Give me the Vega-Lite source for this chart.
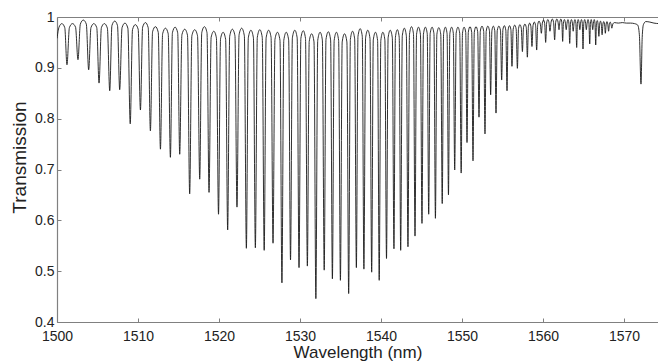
{
"$schema":"https://vega.github.io/schema/vega-lite/v6.json",
"width":601,"height":305,
"autosize":{"type":"none"},
"padding":{"left":57,"top":17,"right":0,"bottom":39},
"background":"white",
"data":{"values":[
{"w":1500.00,"t":0.958},{"w":1500.25,"t":0.980},{"w":1500.60,"t":0.987},{"w":1500.96,"t":0.979},
{"w":1501.23,"t":0.906},{"w":1501.53,"t":0.979},{"w":1501.91,"t":0.987},{"w":1502.29,"t":0.980},
{"w":1502.59,"t":0.916},{"w":1502.88,"t":0.986},{"w":1503.25,"t":0.994},{"w":1503.62,"t":0.986},
{"w":1503.91,"t":0.896},{"w":1504.19,"t":0.979},{"w":1504.55,"t":0.987},{"w":1504.91,"t":0.979},
{"w":1505.19,"t":0.870},{"w":1505.48,"t":0.979},{"w":1505.85,"t":0.987},{"w":1506.22,"t":0.978},
{"w":1506.51,"t":0.855},{"w":1506.78,"t":0.983},{"w":1507.13,"t":0.992},{"w":1507.47,"t":0.983},
{"w":1507.74,"t":0.857},{"w":1508.03,"t":0.979},{"w":1508.39,"t":0.988},{"w":1508.75,"t":0.978},
{"w":1509.04,"t":0.790},{"w":1509.32,"t":0.975},{"w":1509.67,"t":0.985},{"w":1510.02,"t":0.976},
{"w":1510.30,"t":0.817},{"w":1510.57,"t":0.980},{"w":1510.92,"t":0.989},{"w":1511.26,"t":0.979},
{"w":1511.53,"t":0.776},{"w":1511.80,"t":0.971},{"w":1512.15,"t":0.981},{"w":1512.50,"t":0.970},
{"w":1512.77,"t":0.740},{"w":1513.04,"t":0.967},{"w":1513.39,"t":0.978},{"w":1513.73,"t":0.967},
{"w":1514.00,"t":0.724},{"w":1514.25,"t":0.969},{"w":1514.58,"t":0.980},{"w":1514.90,"t":0.969},
{"w":1515.15,"t":0.730},{"w":1515.42,"t":0.965},{"w":1515.77,"t":0.976},{"w":1516.11,"t":0.964},
{"w":1516.38,"t":0.652},{"w":1516.65,"t":0.963},{"w":1517.00,"t":0.975},{"w":1517.35,"t":0.963},
{"w":1517.62,"t":0.681},{"w":1517.87,"t":0.969},{"w":1518.20,"t":0.981},{"w":1518.52,"t":0.969},
{"w":1518.77,"t":0.655},{"w":1519.03,"t":0.960},{"w":1519.36,"t":0.972},{"w":1519.68,"t":0.959},
{"w":1519.94,"t":0.612},{"w":1520.19,"t":0.957},{"w":1520.51,"t":0.970},{"w":1520.82,"t":0.956},
{"w":1521.07,"t":0.581},{"w":1521.32,"t":0.962},{"w":1521.65,"t":0.976},{"w":1521.97,"t":0.963},
{"w":1522.22,"t":0.626},{"w":1522.48,"t":0.965},{"w":1522.80,"t":0.978},{"w":1523.13,"t":0.963},
{"w":1523.38,"t":0.545},{"w":1523.62,"t":0.959},{"w":1523.94,"t":0.974},{"w":1524.25,"t":0.959},
{"w":1524.49,"t":0.546},{"w":1524.73,"t":0.960},{"w":1525.04,"t":0.975},{"w":1525.34,"t":0.960},
{"w":1525.58,"t":0.541},{"w":1525.82,"t":0.959},{"w":1526.13,"t":0.974},{"w":1526.43,"t":0.960},
{"w":1526.67,"t":0.555},{"w":1526.91,"t":0.956},{"w":1527.22,"t":0.970},{"w":1527.53,"t":0.954},
{"w":1527.77,"t":0.477},{"w":1528.00,"t":0.954},{"w":1528.30,"t":0.970},{"w":1528.60,"t":0.955},
{"w":1528.83,"t":0.522},{"w":1529.06,"t":0.959},{"w":1529.36,"t":0.974},{"w":1529.65,"t":0.959},
{"w":1529.88,"t":0.507},{"w":1530.11,"t":0.958},{"w":1530.40,"t":0.973},{"w":1530.68,"t":0.958},
{"w":1530.91,"t":0.510},{"w":1531.14,"t":0.952},{"w":1531.44,"t":0.967},{"w":1531.73,"t":0.951},
{"w":1531.96,"t":0.446},{"w":1532.19,"t":0.954},{"w":1532.48,"t":0.970},{"w":1532.76,"t":0.955},
{"w":1532.99,"t":0.502},{"w":1533.21,"t":0.956},{"w":1533.50,"t":0.971},{"w":1533.78,"t":0.955},
{"w":1534.00,"t":0.485},{"w":1534.22,"t":0.954},{"w":1534.50,"t":0.970},{"w":1534.77,"t":0.954},
{"w":1534.99,"t":0.482},{"w":1535.21,"t":0.951},{"w":1535.50,"t":0.967},{"w":1535.79,"t":0.951},
{"w":1536.01,"t":0.456},{"w":1536.22,"t":0.956},{"w":1536.49,"t":0.972},{"w":1536.75,"t":0.957},
{"w":1536.96,"t":0.507},{"w":1537.16,"t":0.962},{"w":1537.43,"t":0.977},{"w":1537.69,"t":0.962},
{"w":1537.89,"t":0.504},{"w":1538.10,"t":0.959},{"w":1538.37,"t":0.974},{"w":1538.64,"t":0.958},
{"w":1538.85,"t":0.498},{"w":1539.05,"t":0.955},{"w":1539.32,"t":0.970},{"w":1539.58,"t":0.954},
{"w":1539.78,"t":0.482},{"w":1539.98,"t":0.954},{"w":1540.23,"t":0.970},{"w":1540.48,"t":0.955},
{"w":1540.68,"t":0.525},{"w":1540.88,"t":0.959},{"w":1541.14,"t":0.974},{"w":1541.40,"t":0.959},
{"w":1541.60,"t":0.544},{"w":1541.78,"t":0.960},{"w":1542.02,"t":0.975},{"w":1542.25,"t":0.960},
{"w":1542.43,"t":0.541},{"w":1542.63,"t":0.963},{"w":1542.88,"t":0.978},{"w":1543.13,"t":0.963},
{"w":1543.33,"t":0.548},{"w":1543.52,"t":0.966},{"w":1543.77,"t":0.981},{"w":1544.01,"t":0.967},
{"w":1544.20,"t":0.569},{"w":1544.39,"t":0.966},{"w":1544.63,"t":0.980},{"w":1544.87,"t":0.966},
{"w":1545.06,"t":0.594},{"w":1545.24,"t":0.966},{"w":1545.48,"t":0.980},{"w":1545.71,"t":0.967},
{"w":1545.89,"t":0.612},{"w":1546.07,"t":0.967},{"w":1546.31,"t":0.980},{"w":1546.54,"t":0.967},
{"w":1546.72,"t":0.604},{"w":1546.90,"t":0.966},{"w":1547.14,"t":0.979},{"w":1547.38,"t":0.966},
{"w":1547.56,"t":0.633},{"w":1547.73,"t":0.967},{"w":1547.95,"t":0.980},{"w":1548.16,"t":0.967},
{"w":1548.33,"t":0.650},{"w":1548.50,"t":0.967},{"w":1548.72,"t":0.980},{"w":1548.93,"t":0.968},
{"w":1549.10,"t":0.699},{"w":1549.28,"t":0.968},{"w":1549.50,"t":0.980},{"w":1549.72,"t":0.968},
{"w":1549.90,"t":0.693},{"w":1550.06,"t":0.968},{"w":1550.26,"t":0.980},{"w":1550.46,"t":0.970},
{"w":1550.62,"t":0.753},{"w":1550.78,"t":0.970},{"w":1550.99,"t":0.981},{"w":1551.20,"t":0.970},
{"w":1551.36,"t":0.717},{"w":1551.52,"t":0.970},{"w":1551.73,"t":0.981},{"w":1551.94,"t":0.971},
{"w":1552.10,"t":0.803},{"w":1552.26,"t":0.972},{"w":1552.47,"t":0.982},{"w":1552.68,"t":0.972},
{"w":1552.84,"t":0.770},{"w":1552.99,"t":0.972},{"w":1553.19,"t":0.982},{"w":1553.39,"t":0.973},
{"w":1553.54,"t":0.847},{"w":1553.69,"t":0.973},{"w":1553.87,"t":0.982},{"w":1554.05,"t":0.973},
{"w":1554.20,"t":0.811},{"w":1554.35,"t":0.973},{"w":1554.55,"t":0.982},{"w":1554.75,"t":0.974},
{"w":1554.90,"t":0.876},{"w":1555.05,"t":0.975},{"w":1555.23,"t":0.983},{"w":1555.41,"t":0.974},
{"w":1555.56,"t":0.855},{"w":1555.69,"t":0.974},{"w":1555.87,"t":0.983},{"w":1556.04,"t":0.975},
{"w":1556.17,"t":0.903},{"w":1556.32,"t":0.976},{"w":1556.51,"t":0.984},{"w":1556.69,"t":0.976},
{"w":1556.84,"t":0.899},{"w":1556.98,"t":0.977},{"w":1557.15,"t":0.985},{"w":1557.32,"t":0.978},
{"w":1557.46,"t":0.932},{"w":1557.59,"t":0.979},{"w":1557.77,"t":0.986},{"w":1557.94,"t":0.979},
{"w":1558.07,"t":0.921},{"w":1558.20,"t":0.981},{"w":1558.36,"t":0.988},{"w":1558.51,"t":0.981},
{"w":1558.64,"t":0.942},{"w":1558.77,"t":0.983},{"w":1558.93,"t":0.990},{"w":1559.09,"t":0.983},
{"w":1559.22,"t":0.935},{"w":1559.35,"t":0.985},{"w":1559.51,"t":0.992},{"w":1559.67,"t":0.986},
{"w":1559.80,"t":0.968},{"w":1559.92,"t":0.988},{"w":1560.07,"t":0.994},{"w":1560.21,"t":0.987},
{"w":1560.33,"t":0.950},{"w":1560.45,"t":0.988},{"w":1560.60,"t":0.995},{"w":1560.74,"t":0.989},
{"w":1560.86,"t":0.972},{"w":1560.99,"t":0.989},{"w":1561.15,"t":0.996},{"w":1561.31,"t":0.989},
{"w":1561.44,"t":0.955},{"w":1561.56,"t":0.989},{"w":1561.71,"t":0.996},{"w":1561.86,"t":0.990},
{"w":1561.98,"t":0.975},{"w":1562.08,"t":0.990},{"w":1562.21,"t":0.996},{"w":1562.33,"t":0.989},
{"w":1562.43,"t":0.952},{"w":1562.52,"t":0.988},{"w":1562.65,"t":0.995},{"w":1562.77,"t":0.988},
{"w":1562.87,"t":0.975},{"w":1562.97,"t":0.988},{"w":1563.08,"t":0.995},{"w":1563.20,"t":0.988},
{"w":1563.30,"t":0.948},{"w":1563.40,"t":0.988},{"w":1563.51,"t":0.995},{"w":1563.63,"t":0.988},
{"w":1563.73,"t":0.972},{"w":1563.83,"t":0.988},{"w":1563.94,"t":0.995},{"w":1564.06,"t":0.988},
{"w":1564.16,"t":0.940},{"w":1564.25,"t":0.988},{"w":1564.35,"t":0.995},{"w":1564.46,"t":0.988},
{"w":1564.55,"t":0.975},{"w":1564.64,"t":0.988},{"w":1564.75,"t":0.995},{"w":1564.85,"t":0.988},
{"w":1564.94,"t":0.937},{"w":1565.04,"t":0.988},{"w":1565.15,"t":0.995},{"w":1565.26,"t":0.988},
{"w":1565.35,"t":0.975},{"w":1565.45,"t":0.988},{"w":1565.56,"t":0.995},{"w":1565.67,"t":0.988},
{"w":1565.77,"t":0.947},{"w":1565.86,"t":0.988},{"w":1565.96,"t":0.995},{"w":1566.05,"t":0.988},
{"w":1566.14,"t":0.975},{"w":1566.23,"t":0.988},{"w":1566.33,"t":0.995},{"w":1566.42,"t":0.988},
{"w":1566.51,"t":0.945},{"w":1566.60,"t":0.987},{"w":1566.70,"t":0.993},{"w":1566.80,"t":0.986},
{"w":1566.90,"t":0.962},{"w":1567.00,"t":0.986},{"w":1567.10,"t":0.992},{"w":1567.20,"t":0.986},
{"w":1567.30,"t":0.965},{"w":1567.40,"t":0.986},{"w":1567.50,"t":0.991},{"w":1567.60,"t":0.986},
{"w":1567.70,"t":0.968},{"w":1567.80,"t":0.986},{"w":1567.90,"t":0.991},{"w":1568.00,"t":0.986},
{"w":1568.10,"t":0.972},{"w":1568.20,"t":0.986},{"w":1568.30,"t":0.990},{"w":1568.40,"t":0.986},
{"w":1568.50,"t":0.978},{"w":1568.62,"t":0.986},{"w":1568.80,"t":0.989},{"w":1569.30,"t":0.988},
{"w":1569.80,"t":0.989},{"w":1570.30,"t":0.988},{"w":1570.80,"t":0.988},{"w":1571.30,"t":0.987},
{"w":1571.70,"t":0.984},{"w":1571.90,"t":0.965},{"w":1572.10,"t":0.868},{"w":1572.25,"t":0.960},
{"w":1572.40,"t":0.985},{"w":1572.70,"t":0.991},{"w":1573.20,"t":0.990},{"w":1573.70,"t":0.988},
{"w":1574.30,"t":0.987}
]},
"layer":[
{"mark":{"type":"line","color":"#1a1a1a","strokeWidth":0.9,"interpolate":"monotone","clip":true},
 "encoding":{
  "x":{"field":"w","type":"quantitative","scale":{"domain":[1500,1574.2],"nice":false,"zero":false},
   "axis":{"orient":"bottom","values":[1500,1510,1520,1530,1540,1550,1560,1570],"format":"d","title":"Wavelength (nm)",
     "tickSize":-4,"labelPadding":11,"labelFlush":false,"labelOverlap":false,"grid":false,
     "titleY":35,"titleBaseline":"alphabetic"}},
  "y":{"field":"t","type":"quantitative","scale":{"domain":[0.4,1],"nice":false,"zero":false},
   "axis":{"orient":"left","values":[0.4,0.5,0.6,0.7,0.8,0.9,1],"format":".1~f","title":"Transmission",
     "tickSize":-4,"labelPadding":7,"labelFlush":false,"labelOverlap":false,"grid":false,
     "titleX":-32,"titleY":140,"titleAngle":-90,"titleBaseline":"alphabetic","titleAlign":"center","titleFontSize":19}}
 }},
{"mark":{"type":"line","strokeOpacity":0},
 "encoding":{
  "x":{"field":"w","type":"quantitative",
   "axis":{"orient":"top","values":[1510,1520,1530,1540,1550,1560,1570],"labels":false,"title":null,"tickSize":-4,"grid":false}},
  "y":{"field":"t","type":"quantitative","axis":null}
 }}
],
"resolve":{"axis":{"x":"independent","y":"independent"}},
"config":{
 "view":{"stroke":null},
 "axis":{"domainColor":"#808080","domainWidth":1.2,"tickColor":"#808080","tickWidth":1,
   "labelColor":"#222222","labelFont":"Liberation Sans","labelFontSize":14,
   "titleColor":"#222222","titleFont":"Liberation Sans","titleFontSize":17,"titleFontWeight":"normal"}
}
}
